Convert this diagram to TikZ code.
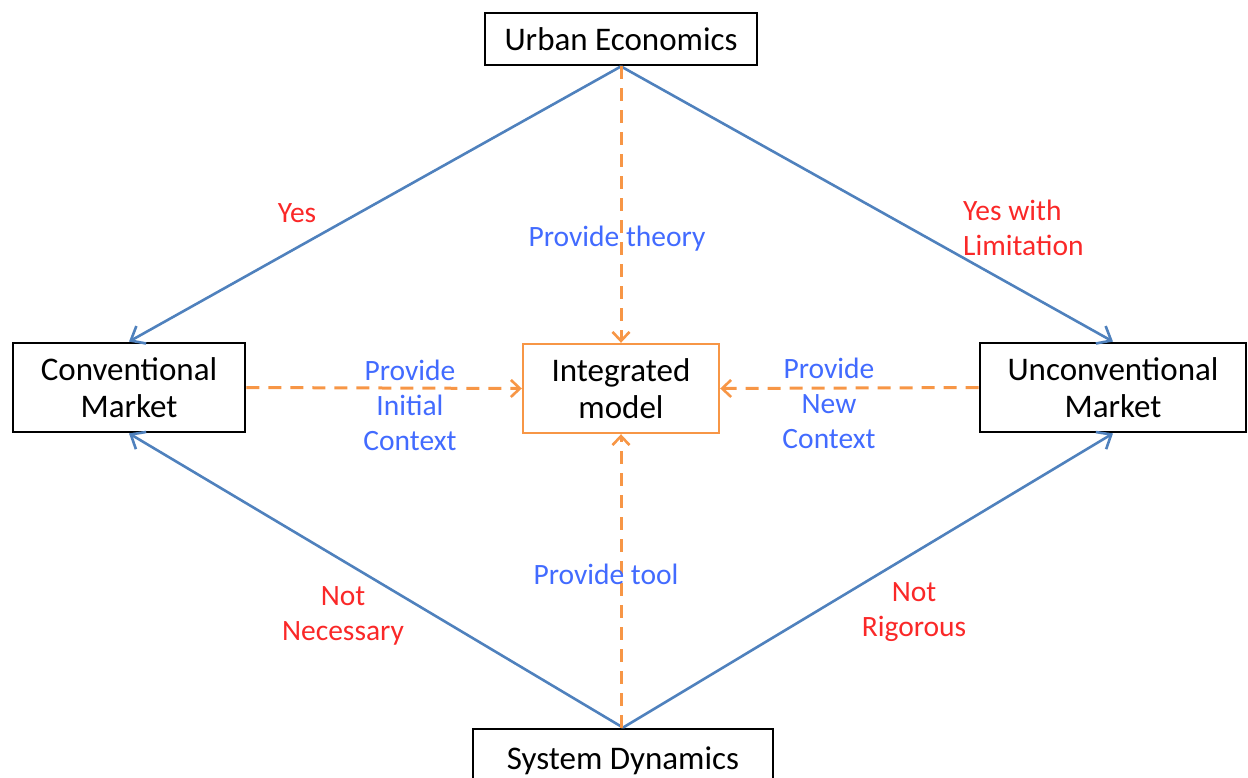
\documentclass[tikz,border=0pt]{standalone}
\usepackage{fontspec}
\setmainfont{Carlito}
\usetikzlibrary{arrows.meta}
\definecolor{lineblue}{RGB}{79,129,189}
\definecolor{lineorange}{RGB}{247,150,70}
\definecolor{labred}{RGB}{250,40,40}
\definecolor{labblue}{RGB}{66,107,255}
\newcommand{\boxtext}{\fontsize{33}{37}\selectfont}
\newcommand{\labtext}{\fontsize{29.5}{35}\selectfont}

\begin{document}
\begin{tikzpicture}[x=1pt, y=-1pt,
    box/.style = {draw=black, line width=2.8pt, align=center, font=\boxtext, inner sep=0pt},
    ibox/.style = {draw=lineorange, line width=2.4pt, align=center, font=\boxtext, inner sep=0pt},
    link/.style = {draw=lineblue, line width=2.6pt, -{Straight Barb[length=12pt, width=20pt, line width=2.6pt]}},
    feed/.style = {draw=lineorange, line width=3pt, dash pattern=on 13pt off 9pt, -{Straight Barb[length=9pt, width=17pt, line width=2.6pt]}},
    redlab/.style = {text=labred, align=center, font=\labtext, inner sep=0pt},
    bluelab/.style = {text=labblue, align=center, font=\labtext, inner sep=0pt}]

    \useasboundingbox (0, 0) rectangle (1248, 777);

    % boxes
    \node[box, minimum width=272pt, minimum height=52pt] (ue) at (621, 39) {Urban Economics};
    \node[box, minimum width=232pt, minimum height=89pt] (cm) at (129, 387.5) {Conventional\\Market};
    \node[ibox, minimum width=196pt, minimum height=89pt] (im) at (621, 388.5) {Integrated\\model};
    \node[box, minimum width=266pt, minimum height=89pt] (um) at (1113, 387.5) {Unconventional\\Market};
    \node[box, minimum width=300pt, minimum height=64pt] (sd) at (623, 761) {System Dynamics};

    % solid links
    \draw[link] (ue.south) -- (cm.north);
    \draw[link] (ue.south) -- (um.north);
    \draw[link] (sd.north) -- (cm.south);
    \draw[link] (sd.north) -- (um.south);

    % dashed feeds into the model
    \draw[feed] (ue.south) -- (im.north);
    \draw[feed] (sd.north -| im.south) -- (im.south);
    \draw[feed] (cm.east) -- (im.west);
    \draw[feed] (um.west) -- (im.east);

    % labels
    \node[redlab] (yes) at (297, 213) {Yes};
    \node[redlab, align=left, anchor=west] (yeslim) at (963, 228) {Yes with\\Limitation};
    \node[redlab] (notnec) at (343, 616) {Not\\Necessary};
    \node[redlab] (notrig) at (914, 612) {Not\\Rigorous};
    \node[bluelab] (theory) at (617, 239) {Provide theory};
    \node[bluelab] (tool) at (606, 574) {Provide tool};
    \node[bluelab] (initial) at (410, 405) {Provide\\Initial\\Context};
    \node[bluelab] (new) at (829, 403) {Provide\\New\\Context};

\end{tikzpicture}
\end{document}
